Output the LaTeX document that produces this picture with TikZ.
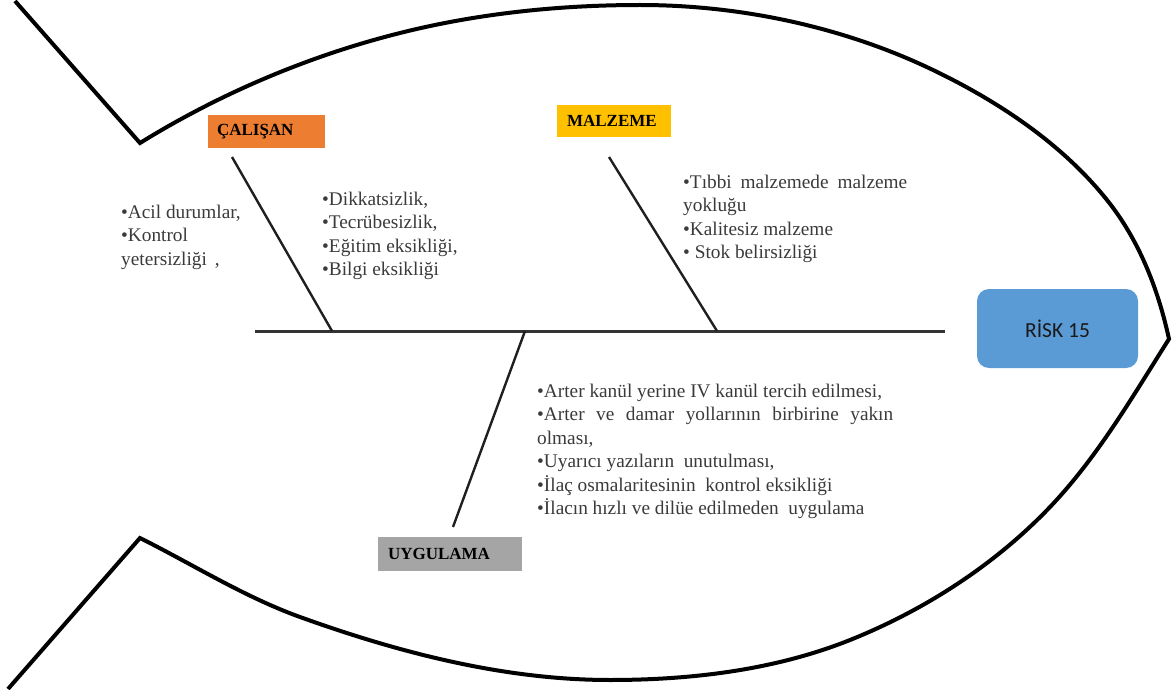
\documentclass[tikz,border=0pt]{standalone}
\usepackage{fontspec}
\setmainfont{Liberation Serif}
\newfontfamily\calib{Carlito}
\definecolor{catorange}{HTML}{ED7D31}
\definecolor{catgold}{HTML}{FFC000}
\definecolor{catgray}{HTML}{A5A5A5}
\definecolor{riskblue}{HTML}{5B9BD5}
\definecolor{bodytext}{HTML}{3A3A3A}
\begin{document}
\begin{tikzpicture}[x=1pt,y=-1pt,
  fish/.style={line width=4pt, line cap=butt, line join=miter},
  spine/.style={line width=3pt, draw=black!80},
  bone/.style={line width=2.4pt, draw=black!88},
  catbox/.style={rectangle, inner ysep=0pt, align=left,
    font=\fontsize{17}{20}\selectfont\bfseries, text=black},
  causes/.style={anchor=base west, inner sep=0pt, align=left, text=bodytext,
    font=\fontsize{19.3}{23.5}\selectfont},
]
\useasboundingbox (0,0) rectangle (1176,690);

% fish outline: upper fin, body round the head, lower fin
\draw[fish] (15,1) -- (140,143)
  .. controls (220,93.5) and (309,55.8) .. (400,33)
  .. controls (478,13.4) and (559.5,5) .. (640,5)
  .. controls (740,5) and (843,26.7) .. (933,70)
  .. controls (998.2,101.3) and (1061.8,143.5) .. (1107,200)
  .. controls (1138.9,239.8) and (1158,288.5) .. (1169,339)
  .. controls (1132,397.4) and (1097.6,457) .. (1050,507)
  .. controls (994.8,564.9) and (924.2,610.3) .. (850,640)
  .. controls (774.8,670.1) and (691,680) .. (610,680)
  .. controls (504.6,680) and (399.2,652.7) .. (300,617)
  .. controls (244,596.8) and (193.2,564.6) .. (140,538)
  -- (8,689);

% head: the effect
\node[rectangle, fill=riskblue, rounded corners=12pt, minimum width=161pt,
  minimum height=79pt, text=black!90, font=\calib\fontsize{21.5}{24}\selectfont]
  (risk) at (1057.5,328.5) {RİSK 15};

% main spine
\coordinate (spineL) at (255,331);
\coordinate (spineR) at (945,331);
\draw[spine] (spineL) -- (spineR);

% category boxes
\node[catbox, fill=catorange, inner xsep=9pt, text width=99pt, minimum height=33pt]
  (calisan) at (266.5,131.5) {ÇALIŞAN};
\node[catbox, fill=catgold, inner xsep=10pt, text width=94pt, minimum height=32pt]
  (malzeme) at (614,121) {MALZEME};
\node[catbox, fill=catgray, inner xsep=10pt, text width=124pt, minimum height=34pt]
  (uygulama) at (450,554) {UYGULAMA};

% bones
\coordinate (b1top) at (232,157);
\coordinate (b1sp) at (332,331);
\coordinate (b2top) at (609,157);
\coordinate (b2sp) at (717,331);
\coordinate (b3sp) at (525,331);
\coordinate (b3bot) at (453,527);
\draw[bone] (b1top) -- (b1sp);
\draw[bone] (b2top) -- (b2sp);
\draw[bone] (b3sp) -- (b3bot);

% causes (each node sits on the baseline of its last line)
\node[causes] (c1) at (121,265) {•Acil durumlar,\\•Kontrol\\yetersizliği\hspace{8pt},};
\node[causes] (c2) at (322,275.5) {•Dikkatsizlik,\\•Tecrübesizlik,\\•Eğitim eksikliği,\\•Bilgi eksikliği};
\node[causes] (c3) at (683,258.5) {\hbox to 224pt{•Tıbbi\hfill malzemede\hfill malzeme}\\yokluğu\\•Kalitesiz malzeme\\• Stok belirsizliği};
\node[causes] (c4) at (537,514.5) {•Arter kanül yerine IV kanül tercih edilmesi,\\\hbox to 356pt{•Arter\hfill ve\hfill damar\hfill yollarının\hfill birbirine\hfill yakın}\\olması,\\•Uyarıcı yazıların\ \ unutulması,\\•İlaç osmalaritesinin\ \ kontrol eksikliği\\•İlacın hızlı ve dilüe edilmeden\ \ uygulama};
\end{tikzpicture}
\end{document}
